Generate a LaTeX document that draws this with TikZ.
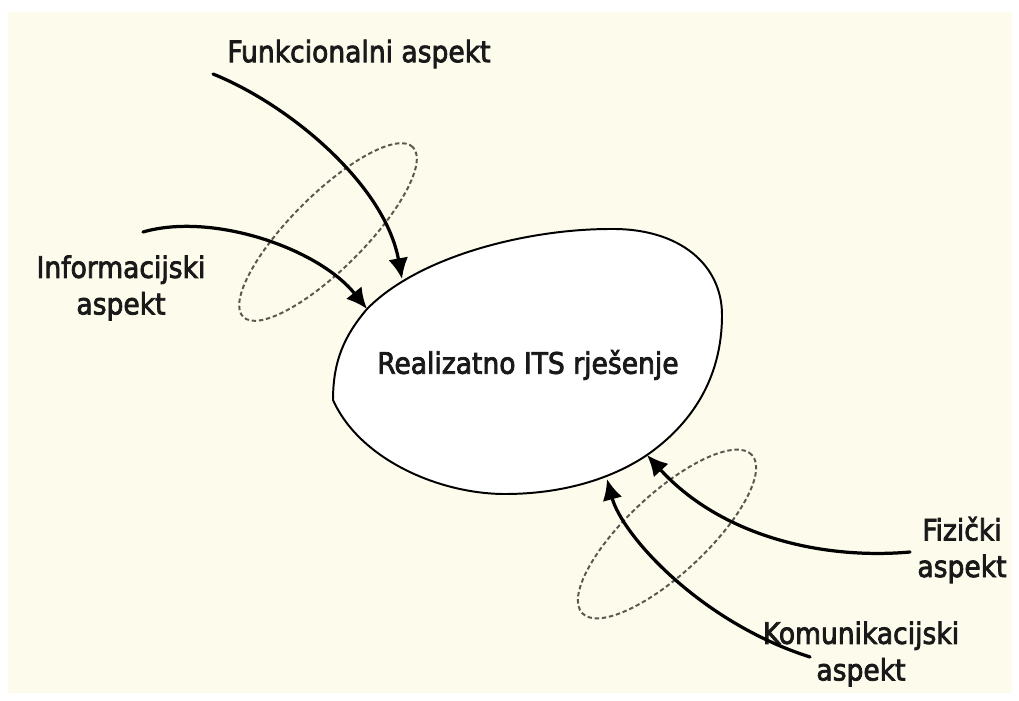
\documentclass[tikz,border=0pt]{standalone}
\usepackage{fontspec}
\setmainfont{DejaVu Sans Condensed}[FakeBold=2.6]
\usetikzlibrary{arrows.meta,shapes.geometric}
\definecolor{paper}{HTML}{FDFBEC}
\definecolor{ringgray}{HTML}{58584F}

\begin{document}
\begin{tikzpicture}[x=0.25mm,y=-0.25mm,
  aspectlabel/.style={font=\fontsize{21}{26}\selectfont,text=black!90,align=center,inner sep=0pt},
  aspect/.style={line width=2.3pt,line cap=round,-{Latex[length=5.2mm,width=5mm]}},
  ring/.style={draw=ringgray,ellipse,line width=1.4pt,dash pattern=on 1.1mm off 0.7mm,inner sep=0pt}]
 \useasboundingbox (0,0) rectangle (1019,701);
 \fill[white] (0,0) rectangle (1019,701);
 \fill[paper] (8,12) rectangle (1012,693);
 % dashed rings
 \node[ring,minimum width=60mm,minimum height=18.5mm,rotate=45] (ringup) at (328,232) {};
 \node[ring,minimum width=58mm,minimum height=20mm,rotate=43] (ringdown) at (667,534) {};
 % the solution
 \draw[line width=1.4pt,fill=white] (610,229) .. controls (680,228) and (722,265) .. (722,315)
  .. controls (722,380) and (690,425) .. (647,455)
  .. controls (610,480) and (560,494) .. (505,494)
  .. controls (440,494) and (360,460) .. (333,400)
  .. controls (333,360) and (345,335) .. (367,309)
  .. controls (420,255) and (530,229) .. cycle;
 \node[aspectlabel] (core) at (528,365) {Realizatno ITS rješenje};
 % aspects
 \node[aspectlabel] (funk) at (359,54) {Funkcionalni aspekt};
 \node[aspectlabel] (info) at (121,288) {Informacijski\\aspekt};
 \node[aspectlabel] (fiz) at (962,550) {Fizički\\aspekt};
 \node[aspectlabel] (kom) at (861,654) {Komunikacijski\\aspekt};
 \coordinate (funkS) at (213,74);
 \coordinate (funkE) at (402,279);
 \coordinate (infoS) at (143,232);
 \coordinate (infoE) at (367,309);
 \coordinate (fizS) at (910,552);
 \coordinate (fizE) at (647,455);
 \coordinate (komS) at (810,657);
 \coordinate (komE) at (607,479);
 \draw[aspect] (funkS) .. controls (290,105) and (385,185) .. (funkE);
 \draw[aspect] (infoS) .. controls (212,212) and (318,248) .. (infoE);
 \draw[aspect] (fizS) .. controls (820,560) and (720,535) .. (fizE);
 \draw[aspect] (komS) .. controls (700,622) and (622,535) .. (komE);
\end{tikzpicture}
\end{document}
